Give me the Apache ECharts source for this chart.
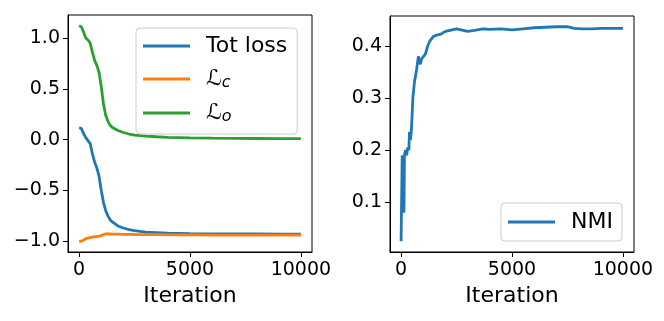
<!DOCTYPE html>
<html>
<head>
<meta charset="utf-8">
<script src="https://cdn.jsdelivr.net/npm/echarts@6/dist/echarts.min.js"></script>
<style>
  html, body { margin: 0; padding: 0; background: #fff; }
  #chart { width: 664px; height: 321px; }
</style>
</head>
<body>
<div id="chart"></div>
<script>
// iterations sampled for the loss curves
var lossIter = [0, 100, 200, 300, 400, 500, 600, 700, 800, 900, 1000, 1100, 1200, 1300, 1400, 1500, 1750, 2000, 2250, 2500, 3000, 3500, 4000, 5000, 6000, 7000, 8000, 9000, 10000]
var totLoss = [0.115, 0.11, 0.06, 0.02, -0.01, -0.04, -0.14, -0.22, -0.28, -0.36, -0.5, -0.62, -0.7, -0.75, -0.79, -0.81, -0.85, -0.87, -0.885, -0.895, -0.91, -0.915, -0.92, -0.925, -0.927, -0.928, -0.929, -0.93, -0.93]
var lossC = [-1.0, -1.0, -0.99, -0.975, -0.97, -0.965, -0.96, -0.955, -0.955, -0.95, -0.945, -0.935, -0.928, -0.928, -0.929, -0.93, -0.931, -0.932, -0.933, -0.934, -0.935, -0.936, -0.937, -0.938, -0.939, -0.94, -0.94, -0.94, -0.94]
var lossO = [1.12, 1.11, 1.06, 1.0, 0.98, 0.95, 0.86, 0.78, 0.73, 0.66, 0.52, 0.35, 0.24, 0.18, 0.14, 0.12, 0.09, 0.07, 0.055, 0.045, 0.035, 0.028, 0.022, 0.017, 0.014, 0.012, 0.011, 0.01, 0.01]

// NMI curve
var nmiIter = [0, 30, 50, 80, 100, 130, 150, 200, 250, 300, 350, 380, 420, 460, 500, 530, 600, 700, 780, 830, 870, 920, 1000, 1100, 1200, 1300, 1450, 1600, 1800, 2000, 2200, 2500, 2800, 3000, 3300, 3700, 4000, 4500, 5000, 5500, 6000, 6500, 7000, 7500, 7800, 8200, 8600, 9000, 9500, 10000]
var nmi = [0.025, 0.025, 0.19, 0.19, 0.12, 0.08, 0.19, 0.2, 0.19, 0.205, 0.2, 0.235, 0.22, 0.235, 0.27, 0.3, 0.33, 0.355, 0.38, 0.37, 0.365, 0.375, 0.378, 0.385, 0.4, 0.41, 0.418, 0.421, 0.423, 0.428, 0.43, 0.433, 0.43, 0.428, 0.43, 0.433, 0.432, 0.433, 0.431, 0.433, 0.435, 0.436, 0.437, 0.437, 0.434, 0.433, 0.433, 0.434, 0.434, 0.434]

var xTicks = [0, 5000, 10000]
var lossTicks = [-1.0, -0.5, 0.0, 0.5, 1.0]
var nmiTicks = [0.1, 0.2, 0.3, 0.4]

var FONT = 'DejaVu Sans'
var BLUE = '#1f77b4'
var ORANGE = '#ff7f0e'
var GREEN = '#2ca02c'

function pairs(xs, ys) {
  return xs.map(function(x, i) { return [x, ys[i]] })
}

function xAxisOf(idx) {
  return {
    type: 'value',
    gridIndex: idx,
    min: -500,
    max: 10500,
    name: 'Iteration',
    nameLocation: 'middle',
    nameGap: 33,
    nameTextStyle: { fontFamily: FONT, fontSize: 22, color: '#000' },
    axisLine: { show: true, onZero: false, lineStyle: { color: '#000', width: 1 } },
    axisTick: { show: true, customValues: xTicks, length: 5, lineStyle: { color: '#000' } },
    axisLabel: {
      customValues: xTicks,
      fontFamily: FONT,
      fontSize: 19,
      color: '#000',
      margin: 9,
      formatter: function(v) { return String(v) }
    },
    splitLine: { show: false }
  }
}

function yAxisOf(idx, min, max, ticks) {
  return {
    type: 'value',
    gridIndex: idx,
    min: min,
    max: max,
    axisLine: { show: true, onZero: false, lineStyle: { color: '#000', width: 1 } },
    axisTick: { show: true, customValues: ticks, length: 5, lineStyle: { color: '#000' } },
    axisLabel: {
      customValues: ticks,
      fontFamily: FONT,
      fontSize: 19,
      color: '#000',
      margin: 8,
      formatter: function(v) {
        return (v < 0 ? '\u2212' : '') + Math.abs(v).toFixed(1)
      }
    },
    splitLine: { show: false }
  }
}

function lineSeries(name, color, data, idx) {
  return {
    name: name,
    type: 'line',
    xAxisIndex: idx,
    yAxisIndex: idx,
    data: data,
    showSymbol: false,
    symbol: 'none',
    lineStyle: { color: color, width: 2.8 },
    itemStyle: { color: color }
  }
}

var legendBase = {
  orient: 'vertical',
  icon: 'rect',
  itemWidth: 47,
  itemHeight: 3,
  itemGap: 10,
  borderColor: '#cccccc',
  borderWidth: 1,
  borderRadius: 4,
  backgroundColor: 'rgba(255,255,255,0.8)',
  textStyle: {
    fontFamily: FONT,
    fontSize: 22,
    lineHeight: 22,
    color: '#000',
    padding: [0, 0, 0, 11],
    rich: {
      L: { fontFamily: FONT, fontSize: 22, lineHeight: 22, fontStyle: 'italic', color: '#000' },
      s: { fontFamily: FONT, fontSize: 16, lineHeight: 22, fontStyle: 'italic', color: '#000', padding: [8, 0, 0, 0] }
    }
  }
}

var chart = echarts.init(document.getElementById('chart'))
var option = {
  animation: false,
  backgroundColor: '#fff',
  grid: [
    { left: 68, top: 15, width: 244, height: 237, show: true, borderColor: '#000', borderWidth: 1, backgroundColor: 'transparent' },
    { left: 390, top: 16, width: 244, height: 236, show: true, borderColor: '#000', borderWidth: 1, backgroundColor: 'transparent' }
  ],
  xAxis: [xAxisOf(0), xAxisOf(1)],
  yAxis: [
    yAxisOf(0, -1.106, 1.226, lossTicks),
    yAxisOf(1, 0.0044, 0.4576, nmiTicks)
  ],
  legend: [
    Object.assign({}, legendBase, {
      left: 136,
      top: 28,
      padding: [7, 10, 9, 7],
      data: ['Tot loss', 'Lc', 'Lo'],
      formatter: function(name) {
        if (name === 'Lc') return '{L|\u2112}{s|c}'
        if (name === 'Lo') return '{L|\u2112}{s|o}'
        return name
      }
    }),
    Object.assign({}, legendBase, {
      left: 501,
      top: 203,
      padding: [8, 9, 8, 7],
      data: ['NMI']
    })
  ],
  series: [
    lineSeries('Tot loss', BLUE, pairs(lossIter, totLoss), 0),
    lineSeries('Lc', ORANGE, pairs(lossIter, lossC), 0),
    lineSeries('Lo', GREEN, pairs(lossIter, lossO), 0),
    lineSeries('NMI', BLUE, pairs(nmiIter, nmi), 1)
  ]
}
chart.setOption(option)
</script>
</body>
</html>
